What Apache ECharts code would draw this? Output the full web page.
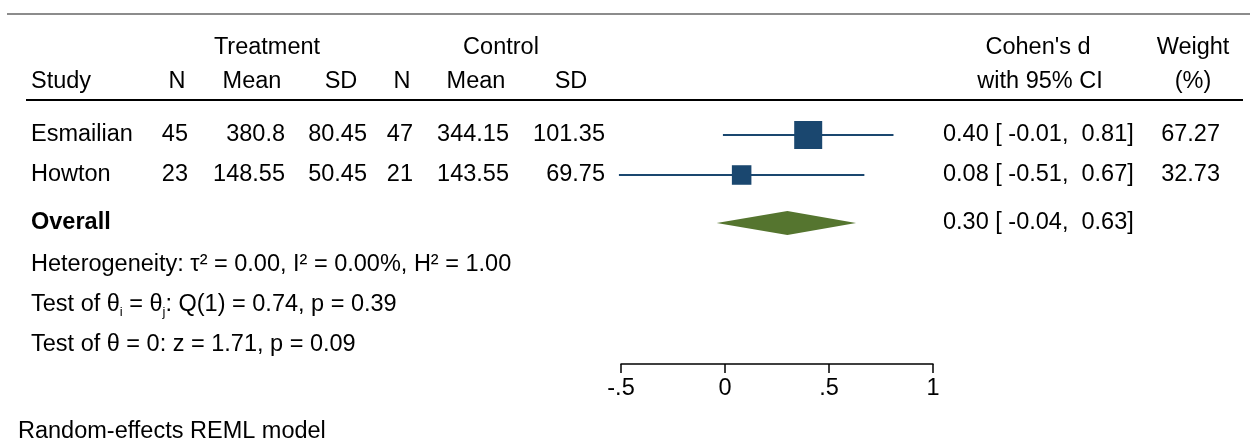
<!DOCTYPE html>
<html><head><meta charset="utf-8">
<script src="https://cdn.jsdelivr.net/npm/echarts@6/dist/echarts.min.js"></script>
<style>html,body{margin:0;padding:0;background:#fff}#c{width:1250px;height:445px}</style>
</head><body><div id="c"></div>
<script>
// ---- data ----
const studies = ['Esmailian', 'Howton'];
const treatN = [45, 23];
const treatMean = [380.8, 148.55];
const treatSD = [80.45, 50.45];
const ctrlN = [47, 21];
const ctrlMean = [344.15, 143.55];
const ctrlSD = [101.35, 69.75];
const effect = [0.40, 0.08];
const ciLow = [-0.01, -0.51];
const ciHigh = [0.81, 0.67];
const weight = [67.27, 32.73];
const overallLabel = ['Overall'];
const overallEffect = [0.30];
const overallLow = [-0.04];
const overallHigh = [0.63];
const xTicks = [-0.5, 0, 0.5, 1];
const hetText = 'Heterogeneity: τ² = 0.00, I² = 0.00%, H² = 1.00';
const testText = 'Test of θ{sub|i} = θ{sub|j}: Q(1) = 0.74, p = 0.39';
const test0Text = 'Test of θ = 0: z = 1.71, p = 0.09';
const modelText = 'Random-effects REML model';

// ---- layout ----
const FONT = "'Liberation Sans', Arial, Helvetica, sans-serif";
const FS = 23.5;
const NAVY = '#1a476f', GREEN = '#55752f';
const studyRows = [1, 2];
const overallRow = 3.2;
const col = { study: 31, tN: 188, tMean: 285, tSD: 367, cN: 413, cMean: 509, cSD: 605, ci: 943, wt: 1220 };

function pad(v, w) { let s = v.toFixed(2); while (s.length < w) s = ' ' + s; return s; }
function ciStr(e, l, h) { return e.toFixed(2) + ' [' + pad(l, 6) + ',' + pad(h, 6) + ']'; }
function txt(text, x, y, align, extra) {
  return { type: 'text', silent: true, style: Object.assign({ text: text, x: x, y: y, align: align || 'left', verticalAlign: 'middle', fill: '#000', fontSize: FS, fontFamily: FONT }, extra || {}) };
}

const chart = echarts.init(document.getElementById('c'), null, { renderer: 'canvas' });
const k = 28 / Math.sqrt(67.27);

chart.setOption({
  animation: false,
  grid: { left: 621, right: 317, top: 95, bottom: 81 },
  xAxis: {
    type: 'value', position: 'bottom', min: xTicks[0], max: xTicks[xTicks.length - 1], interval: 0.5,
    axisLine: { show: true, onZero: false, lineStyle: { color: '#000', width: 1.5 } },
    axisTick: { show: true, length: 9, lineStyle: { color: '#000', width: 1.5 } },
    axisLabel: { fontSize: FS, fontFamily: FONT, color: '#000', margin: 13,
      formatter: v => (v === 0 ? '0' : String(v).replace(/^(-?)0\./, '$1.')) },
    splitLine: { show: false }
  },
  yAxis: { type: 'value', inverse: true, min: 0, max: 6.725, show: false },
  graphic: [
    { type: 'line', shape: { x1: 7, y1: 14, x2: 1250, y2: 14 }, style: { stroke: '#8c8c8c', lineWidth: 2 } },
    { type: 'line', shape: { x1: 26, y1: 100, x2: 1243, y2: 100 }, style: { stroke: '#000', lineWidth: 2 } },
    txt('Treatment', 267, 48, 'center'),
    txt('Control', 501, 48, 'center'),
    txt("Cohen's d", 1038, 48, 'center'),
    txt('Weight', 1193, 48, 'center'),
    txt('Study', col.study, 82, 'left'),
    txt('N', 177, 82, 'center'),
    txt('Mean', 252, 82, 'center'),
    txt('SD', 341, 82, 'center'),
    txt('N', 402, 82, 'center'),
    txt('Mean', 476, 82, 'center'),
    txt('SD', 571, 82, 'center'),
    txt('with 95% CI', 1040, 82, 'center'),
    txt('(%)', 1193, 82, 'center'),
    txt(hetText, col.study, 265, 'left'),
    { type: 'text', silent: true, style: { text: testText, x: col.study, y: 305, align: 'left', verticalAlign: 'middle', fill: '#000', fontSize: FS, fontFamily: FONT,
      rich: { sub: { fontSize: 13, fontFamily: FONT, verticalAlign: 'bottom', lineHeight: 28 } }, lineHeight: 28 } },
    txt(test0Text, col.study, 345, 'left'),
    txt(modelText, 18, 432, 'left')
  ],
  series: [
    {
      type: 'custom', clip: false, silent: true,
      data: studies.map((s, i) => [i]),
      renderItem: function (params, api) {
        const i = api.value(0);
        const y = api.coord([0, studyRows[i]])[1];
        const x0 = api.coord([ciLow[i], studyRows[i]])[0];
        const x1 = api.coord([ciHigh[i], studyRows[i]])[0];
        const xc = api.coord([effect[i], studyRows[i]])[0];
        const side = k * Math.sqrt(weight[i]);
        return { type: 'group', children: [
          { type: 'line', shape: { x1: x0, y1: y, x2: x1, y2: y }, style: { stroke: NAVY, lineWidth: 2 } },
          { type: 'rect', shape: { x: xc - side / 2, y: y - side / 2, width: side, height: side }, style: { fill: NAVY } },
          txt(studies[i], col.study, y, 'left'),
          txt(String(treatN[i]), col.tN, y, 'right'),
          txt(String(treatMean[i]), col.tMean, y, 'right'),
          txt(String(treatSD[i]), col.tSD, y, 'right'),
          txt(String(ctrlN[i]), col.cN, y, 'right'),
          txt(String(ctrlMean[i]), col.cMean, y, 'right'),
          txt(String(ctrlSD[i]), col.cSD, y, 'right'),
          txt(ciStr(effect[i], ciLow[i], ciHigh[i]), col.ci, y, 'left'),
          txt(weight[i].toFixed(2), col.wt, y, 'right')
        ] };
      }
    },
    {
      type: 'custom', clip: false, silent: true,
      data: overallLabel.map((s, i) => [i]),
      renderItem: function (params, api) {
        const i = api.value(0);
        const y = api.coord([0, overallRow])[1];
        const xl = api.coord([overallLow[i], overallRow])[0];
        const xh = api.coord([overallHigh[i], overallRow])[0];
        const xc = api.coord([overallEffect[i], overallRow])[0];
        const h = 12;
        return { type: 'group', children: [
          { type: 'polygon', shape: { points: [[xl, y], [xc, y - h], [xh, y], [xc, y + h]] }, style: { fill: GREEN } },
          txt(overallLabel[i], col.study, y, 'left', { fontWeight: 'bold' }),
          txt(ciStr(overallEffect[i], overallLow[i], overallHigh[i]), col.ci, y, 'left')
        ] };
      }
    }
  ]
});
</script></body></html>
